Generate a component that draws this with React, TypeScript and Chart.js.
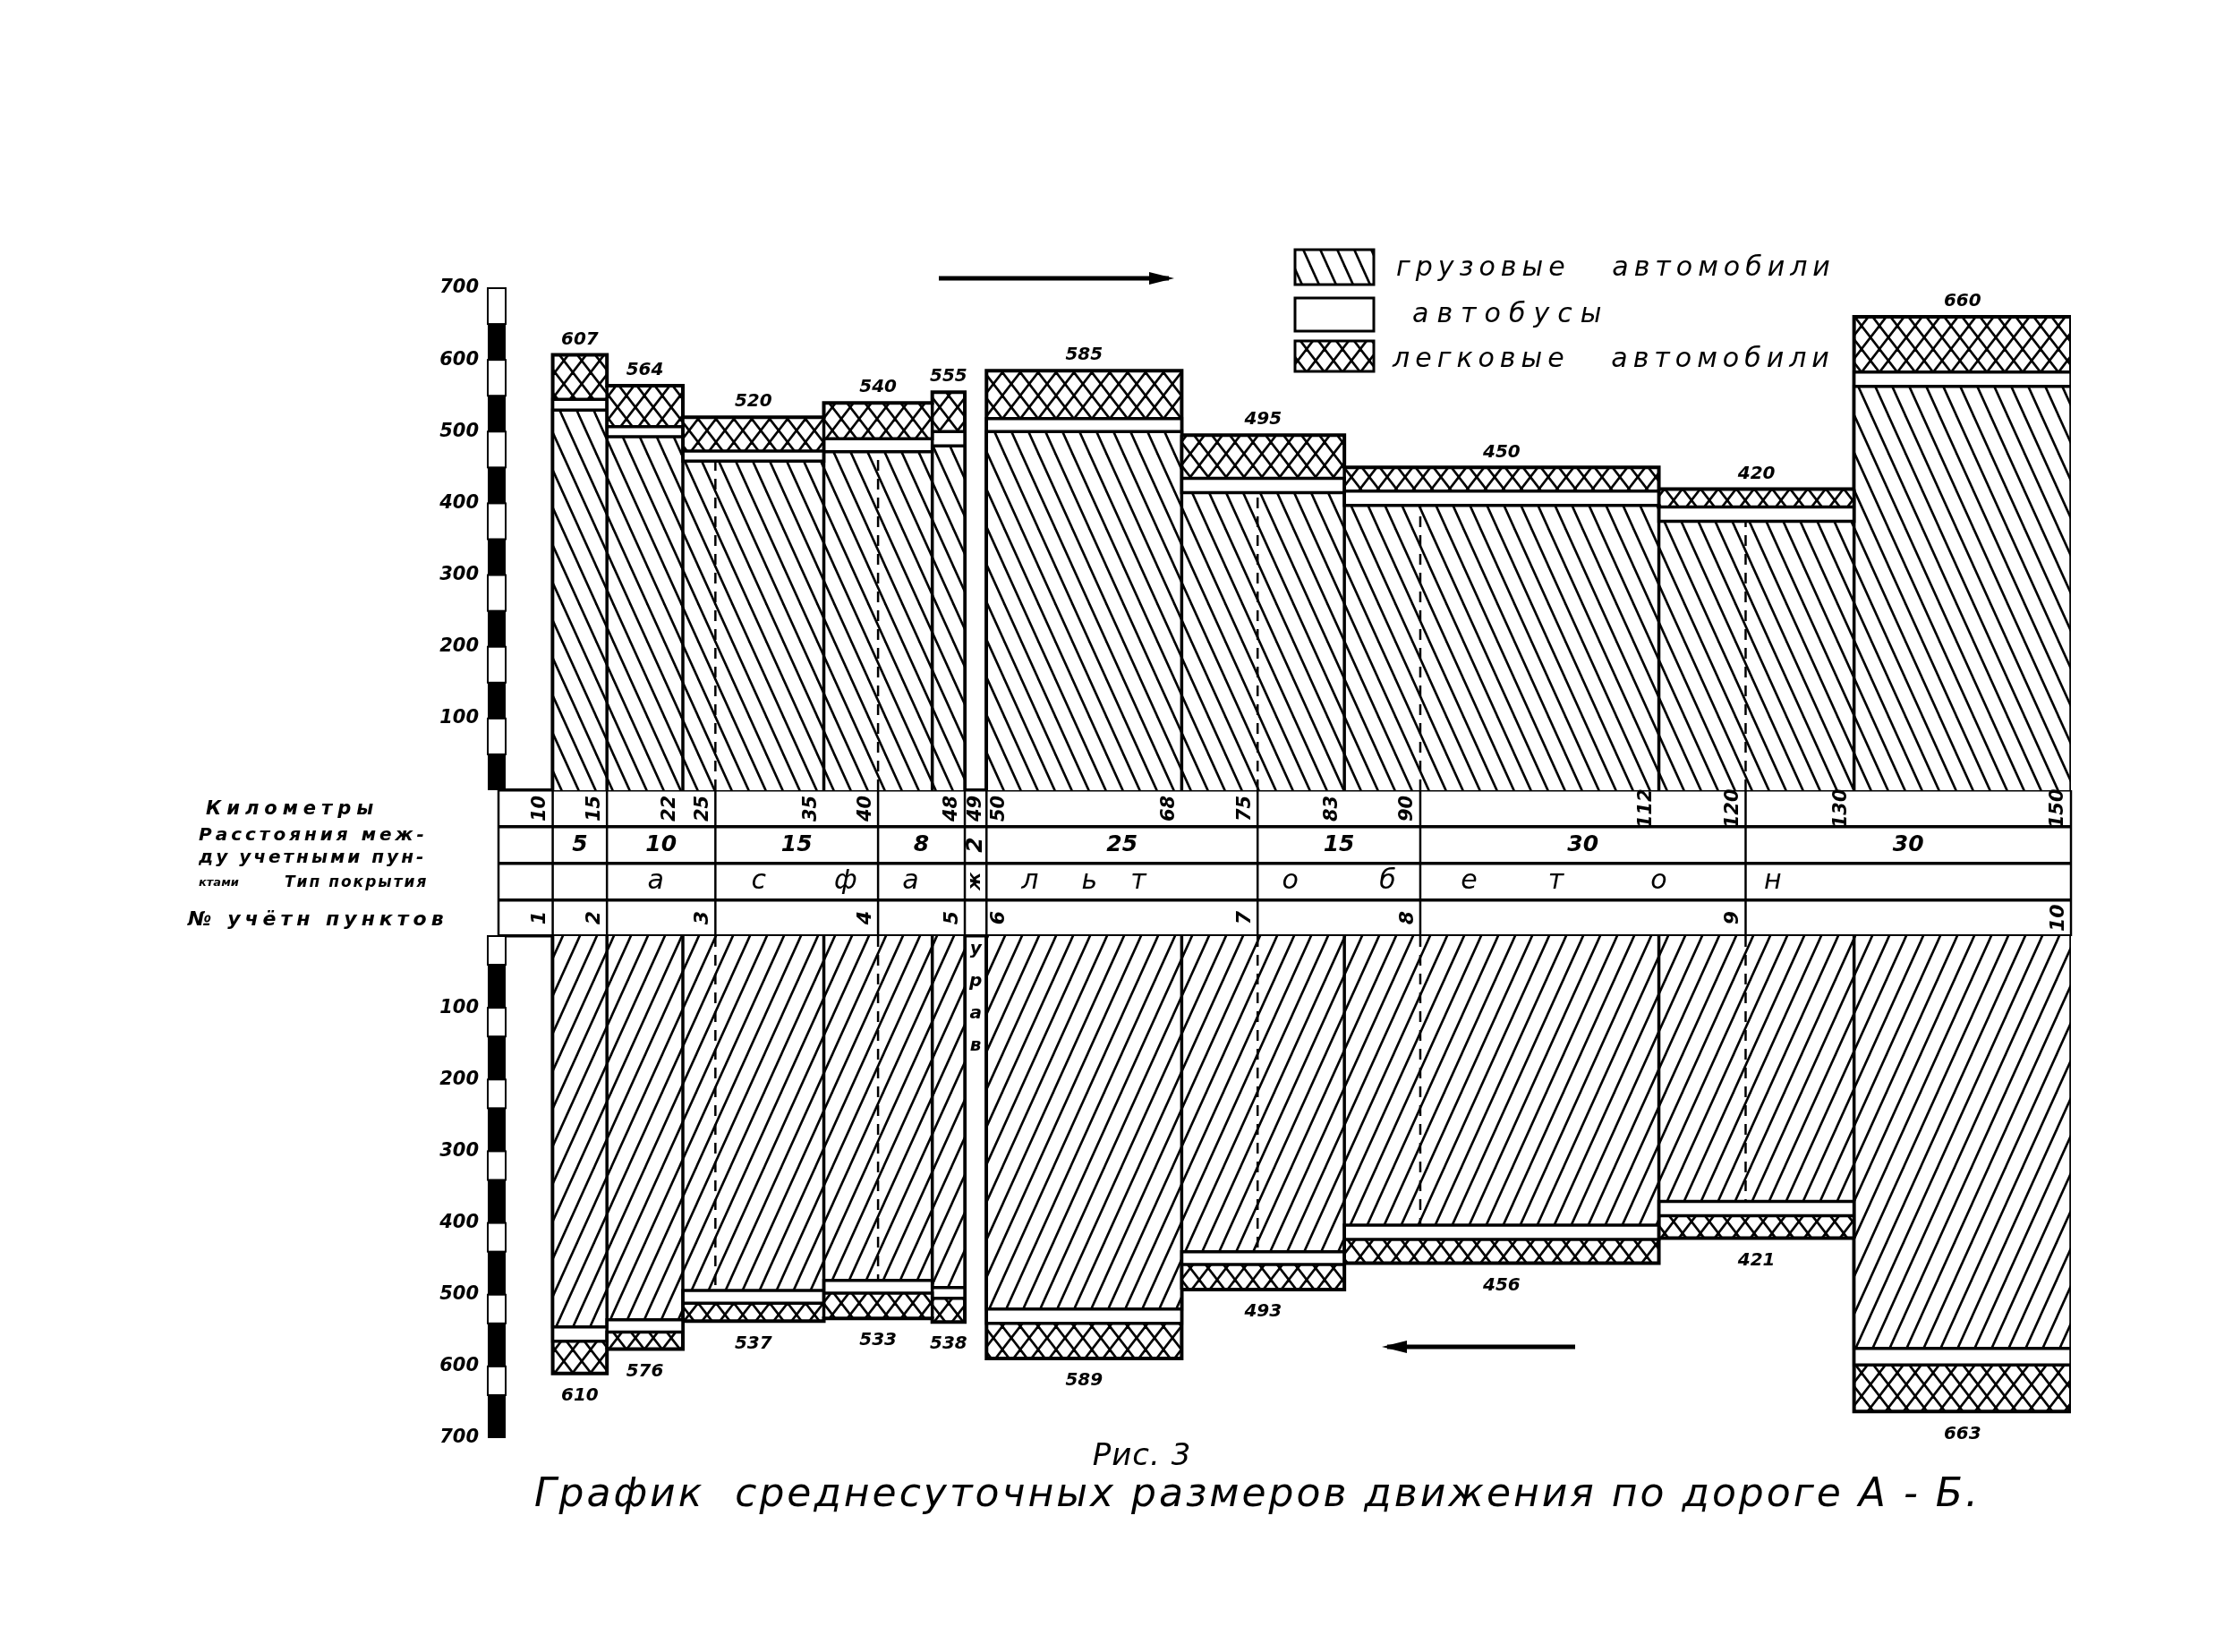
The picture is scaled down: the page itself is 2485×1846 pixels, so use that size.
import React, { useEffect, useRef } from 'react';
import { Chart, registerables } from 'chart.js';

Chart.register(...registerables);

// ---- data (km along road А–Б) ----
const segmentStartKm = [10, 15, 22, 35, 45, 50, 68, 83, 112, 130];
const segmentEndKm = [15, 22, 35, 45, 48, 68, 83, 112, 130, 150];

// direction А → Б (upper graph)
const trucksAB = [530, 493, 459, 472, 480, 500, 415, 397, 375, 563];
const busesAB = [15, 14, 14, 18, 20, 18, 20, 20, 20, 20];
const carsAB = [62, 57, 47, 50, 55, 67, 60, 33, 25, 77];

// direction Б → А (lower graph)
const trucksBA = [545, 535, 494, 480, 490, 520, 440, 403, 370, 575];
const busesBA = [20, 17, 18, 18, 15, 20, 18, 20, 20, 23];
const carsBA = [45, 24, 25, 35, 33, 49, 35, 33, 31, 65];

// table under / between the graphs
const kmMarks = [10, 15, 22, 25, 35, 40, 48, 49, 50, 68, 75, 83, 90, 112, 120, 130, 150];
const countPointKm = [10, 15, 25, 40, 48, 50, 75, 90, 120, 150];
const countPointNo = ['1', '2', '3', '4', '5', '6', '7', '8', '9', '10'];
const distancesKm = ['5', '10', '15', '8', '2', '25', '15', '30', '30'];
const surfaceLetters = ['а', 'с', 'ф', 'а', 'ж', 'л', 'ь', 'т', 'о', 'б', 'е', 'т', 'о', 'н'];
const surfaceLetterKm = [19.5, 29, 37, 43, 49, 54, 59.5, 64, 78, 87, 94.5, 102.5, 112, 122.5];
const rowHeaders = ['Километры', 'Расстояния между учетными пунктами', 'Тип покрытия', '№ учётн пунктов'];
const legendLabels = ['грузовые   автомобили', 'автобусы', 'легковые   автомобили'];
const gapNote = ['у', 'р', 'а', 'в'];
const captionFig = 'Рис. 3';
const captionTitle = 'График  среднесуточных размеров движения по дороге А - Б.';

const FONT = '"DejaVu Sans"';

type P = { x: number; y: number | null };

const addArr = (a: number[], b: number[]) => a.map((v, i) => v + b[i]);

function stepPoints(vals: number[]): P[] {
  const n = segmentStartKm.length;
  const pts: P[] = [];
  for (let i = 0; i < n; i++) {
    const opens = i === 0 || segmentStartKm[i] !== segmentEndKm[i - 1];
    if (opens) {
      if (i > 0) pts.push({ x: (segmentEndKm[i - 1] + segmentStartKm[i]) / 2, y: null });
      pts.push({ x: segmentStartKm[i], y: 0 });
    }
    pts.push({ x: segmentStartKm[i], y: vals[i] });
    pts.push({ x: segmentEndKm[i], y: vals[i] });
    const closes = i === n - 1 || segmentStartKm[i + 1] !== segmentEndKm[i];
    if (closes) pts.push({ x: segmentEndKm[i], y: 0 });
  }
  return pts;
}

function dividerPoints(tot: number[]): P[] {
  const pts: P[] = [];
  for (let i = 0; i < segmentStartKm.length - 1; i++) {
    if (segmentEndKm[i] === segmentStartKm[i + 1]) {
      const b = segmentEndKm[i];
      pts.push({ x: b, y: 0 }, { x: b, y: Math.min(tot[i], tot[i + 1]) }, { x: b, y: null });
    }
  }
  return pts;
}

function countLinePoints(trucks: number[]): P[] {
  const pts: P[] = [];
  countPointKm.forEach((km) => {
    const idx = segmentStartKm.findIndex((s, i) => s < km && km < segmentEndKm[i]);
    if (idx >= 0) pts.push({ x: km, y: 0 }, { x: km, y: trucks[idx] }, { x: km, y: null });
  });
  return pts;
}

function makePattern(w: number, h: number, dirs: string[], lw: number): CanvasPattern | string {
  const c = document.createElement('canvas');
  c.width = w;
  c.height = h;
  const g = c.getContext('2d');
  if (!g) return '#888';
  g.fillStyle = '#fff';
  g.fillRect(0, 0, w, h);
  g.strokeStyle = '#000';
  g.lineWidth = lw;
  for (const d of dirs) {
    for (const ox of [-w, 0, w]) {
      g.beginPath();
      if (d === 'back') {
        g.moveTo(ox - w * 0.2, -h * 0.2);
        g.lineTo(ox + w * 1.2, h * 1.2);
      } else {
        g.moveTo(ox + w * 1.2, -h * 0.2);
        g.lineTo(ox - w * 0.2, h * 1.2);
      }
      g.stroke();
    }
  }
  return g.createPattern(c, 'repeat') || '#888';
}

function drawText(
  ctx: CanvasRenderingContext2D,
  s: string,
  x: number,
  y: number,
  font: string,
  opts: { rot?: number; align?: CanvasTextAlign; spacing?: number } = {}
) {
  ctx.save();
  ctx.font = font;
  ctx.fillStyle = '#000';
  ctx.textAlign = opts.align ?? 'center';
  ctx.textBaseline = 'middle';
  (ctx as any).letterSpacing = (opts.spacing ?? 0) + 'px';
  ctx.translate(x, y);
  if (opts.rot) ctx.rotate(opts.rot);
  ctx.fillText(s, 0, 0);
  ctx.restore();
}

const decorPlugin = {
  id: 'roadDecor',
  afterDraw(chart: any) {
    const ctx: CanvasRenderingContext2D = chart.ctx;
    const xs = chart.scales.x;
    const yT = chart.scales.yT;
    const yM = chart.scales.yM;
    const yB = chart.scales.yB;
    const area = chart.chartArea;
    const bold = (px: number) => `italic bold ${px}px ${FONT}`;
    const ital = (px: number) => `italic ${px}px ${FONT}`;

    // ruler strips along the vertical scales
    const sx = area.left - 12;
    const sw = 20;
    ctx.save();
    ctx.strokeStyle = '#000';
    ctx.lineWidth = 2;
    for (let h = 100; h <= 700; h += 100) {
      const a = yT.getPixelForValue(h);
      const m = yT.getPixelForValue(h - 50);
      const b = yT.getPixelForValue(h - 100);
      ctx.fillStyle = '#fff';
      ctx.fillRect(sx, a, sw, m - a);
      ctx.strokeRect(sx, a, sw, m - a);
      ctx.fillStyle = '#000';
      ctx.fillRect(sx, m, sw, b - m);
    }
    for (let h = 0; h < 700; h += 100) {
      const a = yB.getPixelForValue(h);
      const m = yB.getPixelForValue(h + 40);
      const b = yB.getPixelForValue(h + 100);
      ctx.fillStyle = '#fff';
      ctx.fillRect(sx, a, sw, m - a);
      ctx.strokeRect(sx, a, sw, m - a);
      ctx.fillStyle = '#000';
      ctx.fillRect(sx, m, sw, b - m);
    }
    ctx.restore();

    // table vertical lines
    const bandTop = yM.getPixelForValue(0);
    const bandBot = yM.getPixelForValue(4);
    ctx.save();
    ctx.strokeStyle = '#000';
    ctx.lineWidth = 2.5;
    [area.left, ...countPointKm.map((k) => xs.getPixelForValue(k))].forEach((px) => {
      ctx.beginPath();
      ctx.moveTo(px, bandTop);
      ctx.lineTo(px, bandBot);
      ctx.stroke();
    });
    ctx.restore();

    const rowY = (r: number) => yM.getPixelForValue(r + 0.5);
    const ROT = -Math.PI / 2;

    // row 0: kilometres
    kmMarks.forEach((km, i) => {
      const gl = i > 0 ? km - kmMarks[i - 1] : 99;
      const gr = i < kmMarks.length - 1 ? kmMarks[i + 1] - km : 99;
      let off = -14;
      if (gl <= 1 && gr <= 1) off = 0;
      else if (gl <= 2) off = 14;
      drawText(ctx, String(km), xs.getPixelForValue(km) + off, rowY(0), bold(21), { rot: ROT });
    });
    // row 1: distances
    distancesKm.forEach((d, i) => {
      const a = countPointKm[i];
      const b = countPointKm[i + 1];
      const narrow = b - a < 3;
      drawText(ctx, d, xs.getPixelForValue((a + b) / 2), rowY(1), bold(25), narrow ? { rot: ROT } : {});
    });
    // row 2: surface type
    surfaceLetters.forEach((l, i) => {
      const narrow = l === 'ж';
      drawText(ctx, l, xs.getPixelForValue(surfaceLetterKm[i]), rowY(2), narrow ? bold(20) : ital(30), narrow ? { rot: ROT } : {});
    });
    // row 3: counting point numbers
    countPointKm.forEach((km, i) => {
      const gl = i > 0 ? km - countPointKm[i - 1] : 99;
      const off = gl <= 2 ? 14 : -14;
      drawText(ctx, countPointNo[i], xs.getPixelForValue(km) + off, rowY(3), bold(22), { rot: ROT });
    });

    // row headers (left)
    const hx = 222;
    drawText(ctx, rowHeaders[0], hx + 8, rowY(0) + 1, bold(21), { align: 'left', spacing: 6 });
    drawText(ctx, 'Расстояния меж-', hx, rowY(1) - 10, bold(20), { align: 'left', spacing: 4 });
    drawText(ctx, 'ду учетными пун-', hx, rowY(1) + 15, bold(20), { align: 'left', spacing: 3 });
    drawText(ctx, 'ктами', hx, rowY(2) + 2, bold(13), { align: 'left' });
    drawText(ctx, rowHeaders[2], hx + 96, rowY(2) + 2, bold(17), { align: 'left', spacing: 2 });
    drawText(ctx, rowHeaders[3], hx - 12, rowY(3) + 3, bold(22), { align: 'left', spacing: 5 });

    // note in the gap below the table
    gapNote.forEach((ch, i) => {
      drawText(ctx, ch, xs.getPixelForValue(49), yB.getPixelForValue(18 + i * 45), bold(20));
    });

    // totals
    const totAB = addArr(addArr(trucksAB, busesAB), carsAB);
    const totBA = addArr(addArr(trucksBA, busesBA), carsBA);
    segmentStartKm.forEach((s, i) => {
      const cx = xs.getPixelForValue((s + segmentEndKm[i]) / 2);
      drawText(ctx, String(totAB[i]), cx, yT.getPixelForValue(totAB[i]) - 17, bold(20));
      drawText(ctx, String(totBA[i]), cx, yB.getPixelForValue(totBA[i]) + 25, bold(20));
    });

    // legend
    const ds = chart.data.datasets;
    const swatches = [ds[2].backgroundColor, ds[3].backgroundColor, ds[4].backgroundColor];
    const boxes = [
      { y: 279, h: 39 },
      { y: 333, h: 37 },
      { y: 381, h: 34 },
    ];
    ctx.save();
    boxes.forEach((b, i) => {
      ctx.fillStyle = swatches[i];
      ctx.fillRect(1447, b.y, 88, b.h);
      ctx.strokeStyle = '#000';
      ctx.lineWidth = 3;
      ctx.strokeRect(1447, b.y, 88, b.h);
    });
    ctx.restore();
    drawText(ctx, legendLabels[0], 1560, 300, ital(30), { align: 'left', spacing: 6 });
    drawText(ctx, legendLabels[1], 1578, 352, ital(30), { align: 'left', spacing: 9 });
    drawText(ctx, legendLabels[2], 1556, 402, ital(30), { align: 'left', spacing: 6 });

    // direction arrows
    const arrow = (x1: number, x2: number, y: number) => {
      ctx.save();
      ctx.strokeStyle = '#000';
      ctx.fillStyle = '#000';
      ctx.lineWidth = 5;
      ctx.beginPath();
      ctx.moveTo(x1, y);
      ctx.lineTo(x2, y);
      ctx.stroke();
      const dir = Math.sign(x2 - x1);
      ctx.beginPath();
      ctx.moveTo(x2 + dir * 6, y);
      ctx.lineTo(x2 - dir * 22, y - 7);
      ctx.lineTo(x2 - dir * 22, y + 7);
      ctx.closePath();
      ctx.fill();
      ctx.restore();
    };
    arrow(1049, 1306, 311);
    arrow(1760, 1550, 1505);

    // captions
    drawText(ctx, captionFig, 1276, 1628, ital(34), { spacing: 1 });
    drawText(ctx, captionTitle, 1405, 1672, ital(44), { spacing: 3 });
  },
};

export default function App() {
  const ref = useRef<HTMLCanvasElement>(null);

  useEffect(() => {
    const canvas = ref.current;
    if (!canvas) return;

    const hatchAB = makePattern(19, 42, ['back'], 2.6);
    const hatchBA = makePattern(19, 42, ['fwd'], 2.6);
    const cross = makePattern(20, 26, ['back', 'fwd'], 2.6);

    const cumAB2 = addArr(trucksAB, busesAB);
    const cumAB3 = addArr(cumAB2, carsAB);
    const cumBA2 = addArr(trucksBA, busesBA);
    const cumBA3 = addArr(cumBA2, carsBA);

    const base = {
      pointRadius: 0,
      pointHoverRadius: 0,
      pointHitRadius: 0,
      tension: 0,
      borderColor: '#000',
      borderJoinStyle: 'miter' as const,
      spanGaps: false,
    };

    const mk = (dir: 'AB' | 'BA') => {
      const yAxisID = dir === 'AB' ? 'yT' : 'yB';
      const t = dir === 'AB' ? trucksAB : trucksBA;
      const c2 = dir === 'AB' ? cumAB2 : cumBA2;
      const c3 = dir === 'AB' ? cumAB3 : cumBA3;
      return [
        { ...base, label: 'div' + dir, data: dividerPoints(c3), yAxisID, borderWidth: 3.5, fill: false },
        { ...base, label: 'pts' + dir, data: countLinePoints(t), yAxisID, borderWidth: 2.5, borderDash: [12, 9], fill: false },
        { ...base, label: legendLabels[0], data: stepPoints(t), yAxisID, borderWidth: 3.5, fill: 'origin', backgroundColor: dir === 'AB' ? hatchAB : hatchBA },
        { ...base, label: legendLabels[1], data: stepPoints(c2), yAxisID, borderWidth: 3.5, fill: 'origin', backgroundColor: '#fff' },
        { ...base, label: legendLabels[2], data: stepPoints(c3), yAxisID, borderWidth: 4, fill: 'origin', backgroundColor: cross },
      ];
    };

    const tickFont = { family: FONT, size: 21, style: 'italic' as const, weight: 'bold' as const };
    const fitLeft = (s: any) => {
      s.width = 557;
    };
    const hideZero = (v: any) => (Number(v) === 0 ? '' : String(v));

    const chart = new Chart(canvas, {
      type: 'line',
      data: { datasets: [...mk('AB'), ...mk('BA')] as any },
      options: {
        responsive: false,
        animation: false,
        events: [],
        layout: { padding: { left: 0, right: 171, top: 322, bottom: 239 } },
        plugins: { legend: { display: false }, tooltip: { enabled: false }, title: { display: false } },
        scales: {
          x: { type: 'linear', min: 5, max: 150, display: false },
          yT: {
            type: 'linear',
            position: 'left',
            stack: 'road',
            stackWeight: 561,
            weight: 3,
            min: 0,
            max: 700,
            ticks: { stepSize: 100, callback: hideZero, font: tickFont, color: '#000', padding: 22 },
            grid: { display: false, drawTicks: false },
            border: { display: false },
            afterFit: fitLeft,
          },
          yM: {
            type: 'linear',
            position: 'left',
            stack: 'road',
            stackWeight: 163,
            weight: 2,
            min: 0,
            max: 4,
            reverse: true,
            ticks: { display: false, stepSize: 1 },
            grid: { display: true, color: '#000', lineWidth: 3.5, drawTicks: false },
            border: { display: false },
            afterFit: fitLeft,
          },
          yB: {
            type: 'linear',
            position: 'left',
            stack: 'road',
            stackWeight: 561,
            weight: 1,
            min: 0,
            max: 700,
            reverse: true,
            ticks: { stepSize: 100, callback: hideZero, font: tickFont, color: '#000', padding: 22 },
            grid: { display: false, drawTicks: false },
            border: { display: false },
            afterFit: fitLeft,
          },
        } as any,
      },
      plugins: [decorPlugin],
    });

    return () => chart.destroy();
  }, []);

  return (
    <canvas
      ref={ref}
      width={2485}
      height={1846}
      style={{ position: 'fixed', left: 0, top: 0, width: '2485px', height: '1846px', display: 'block', background: '#fff' }}
    />
  );
}
